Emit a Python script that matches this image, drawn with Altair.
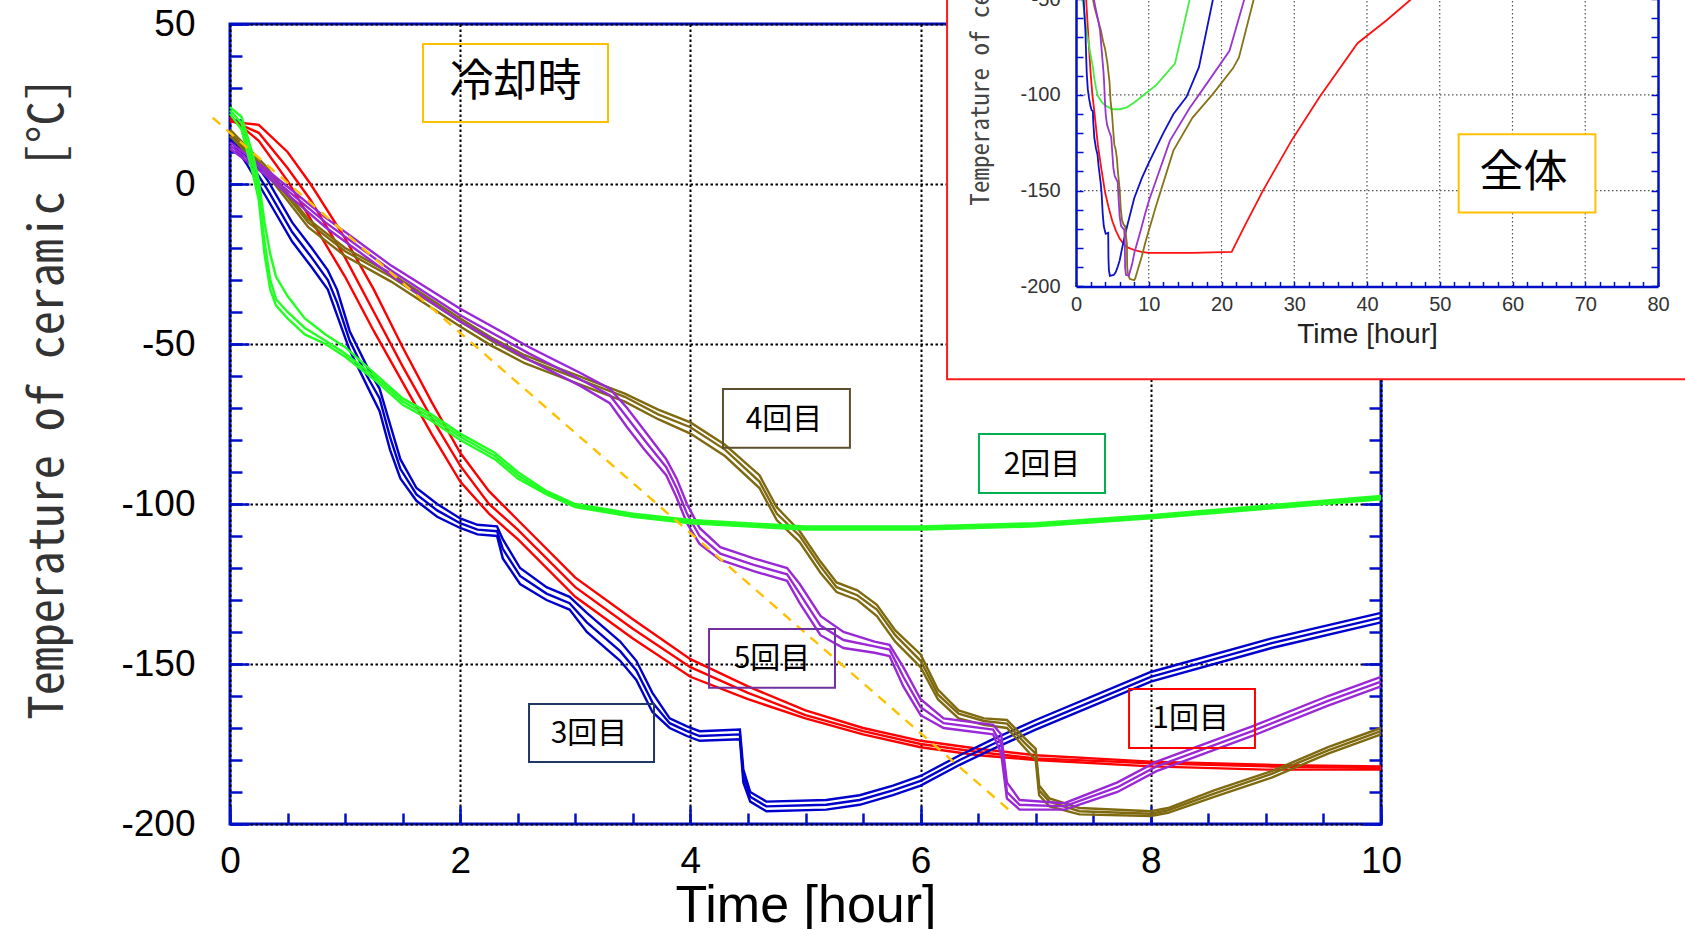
import altair as alt
import pandas as pd

AXIS_BLUE = "#0010C8"
MONO = "Noto Sans Mono CJK JP, DejaVu Sans Mono"
SANS = "Liberation Sans"
CJK = "Noto Sans CJK JP"

# ---------------- cooling runs, 0-10 h (three thermocouples per run) ----------------
red_t = [0, 0.25, 0.5, 0.7, 1.0, 1.25, 1.5, 1.75, 2.0, 2.25, 2.5, 3.0, 3.5, 4.0, 4.5,
         5.0, 5.5, 6.0, 6.5, 7.0, 8.0, 9.0, 10.0]
red_a = [21, 13.5, 1, -11, -29, -46, -62, -78, -93, -103, -111, -129, -142, -154, -161,
         -167, -172, -176, -178.5, -180, -182, -183, -183]
red_b = [20, 16, 5, -5, -23, -40, -57, -73, -88, -100, -108, -126, -139, -151, -159,
         -166, -171, -175, -177.5, -179.5, -181, -182, -182.5]
red_c = [19.5, 18.5, 10, 0, -17, -33, -51, -68, -84, -96, -105, -123, -136, -148.5, -157,
         -164.5, -170, -174, -176.5, -178.5, -180.5, -181.5, -182]

green_t = [0, 0.1, 0.2, 0.25, 0.3, 0.35, 0.4, 0.5, 0.65, 0.83, 1.0, 1.25, 1.5, 1.75, 2.0,
           2.3, 2.5, 2.75, 3.0, 3.5, 4.0, 5.0, 6.0, 7.0, 8.0, 9.0, 10.0]
green_a = [22, 17, 3, -5, -22, -33, -38, -42, -47, -50, -54, -61, -69, -74, -80,
           -86, -92, -97, -101, -104, -106, -108, -108, -107, -104.5, -101.5, -98.5]
green_b = [23, 19, 6, -2, -18, -30, -36, -40, -45, -49, -53, -60, -68, -73, -79,
           -85, -91, -96.5, -100.5, -103.5, -105.5, -107.5, -107.5, -106.5, -104, -101, -98]
green_c = [24, 21, 9, 1, -12, -22, -29, -35, -42, -47, -51, -59, -67, -72, -78,
           -84, -90, -96, -100, -103, -105, -107, -107, -106, -103.5, -100.5, -97.5]

blue_t = [0, 0.15, 0.33, 0.54, 0.71, 0.85, 0.93, 1.04, 1.19, 1.3, 1.39, 1.48, 1.62, 1.8,
          2.0, 2.15, 2.32, 2.37, 2.52, 2.75, 2.95, 3.1, 3.39, 3.53, 3.67, 3.82, 3.97, 4.08,
          4.43, 4.46, 4.52, 4.66, 5.18, 5.47, 5.76, 6.0, 6.34, 6.63, 7.0, 8.0, 9.05, 10.0]
blue_a = [14, 6, -5, -18, -26, -33, -41, -52, -63, -71, -83, -92, -99, -104,
          -107.5, -109.5, -110, -117, -125, -130, -133, -140, -149, -155, -165, -170, -172.5, -174,
          -173.5, -187, -193, -196, -195.5, -194, -191, -188, -181.5, -176.5, -170.5, -155.5, -145, -137]
blue_b = [15, 8, -2, -15, -23, -30, -37, -49, -60, -67, -79, -89, -97, -102,
          -106, -108, -108.5, -114, -122.5, -128, -131, -137, -146, -152, -162, -168.5, -171, -172.5,
          -172, -185, -191.5, -194.5, -194, -192.5, -189.5, -186.5, -180, -175, -169, -154, -143.5, -135.5]
blue_c = [16, 10, 1, -12, -20, -27, -33, -46, -57, -64, -75, -86, -95, -100,
          -104.5, -106.5, -107, -111, -120, -126, -129, -134, -143, -149, -159, -167, -169.5, -171,
          -170.5, -183, -190, -193, -192.5, -191, -188, -185, -178.5, -173.5, -167.5, -152.5, -142, -134]

olive_t = [0, 0.3, 0.68, 1.0, 1.4, 1.7, 2.0, 2.27, 2.56, 2.85, 3.14, 3.43, 3.72, 4.0, 4.3,
           4.6, 4.75, 4.95, 5.13, 5.27, 5.45, 5.62, 5.78, 6.0, 6.15, 6.33, 6.55, 6.75, 6.9,
           7.0, 7.03, 7.12, 7.38, 8.0, 8.15, 8.55, 9.05, 9.54, 10.0]
olive_a = [15, 4, -13.5, -22.5, -30.5, -37.5, -44.5, -50.5, -56, -60, -64, -68, -73.5, -78, -85,
           -95, -105, -112, -121.5, -127.5, -130, -135, -143, -151, -161, -167, -169, -170, -176,
           -180, -191, -194.5, -197, -197.5, -196.5, -191.5, -185.5, -178, -172]
olive_b = [16, 5, -12, -21, -29, -36, -43, -49, -54.5, -58.5, -62.5, -66.5, -72, -76, -83,
           -93, -103, -110, -119.5, -126, -128.5, -133, -141, -149, -159.5, -165.5, -167.8, -168.6, -174.5,
           -178, -189.5, -193, -196, -196.8, -195.7, -190.5, -184.3, -177, -171]
olive_c = [17, 6, -11, -20, -28, -35, -42, -48, -53.5, -57.5, -61.5, -65.5, -70.5, -74.5, -81.5,
           -91, -101, -108.5, -118, -124.5, -127, -131.5, -139.5, -147, -158, -164.5, -167, -167.5, -173,
           -176.5, -188, -192, -195, -196, -195, -189.5, -183.5, -176, -170]

purple_t = [0, 0.3, 0.83, 1.4, 2.0, 2.6, 3.04, 3.3, 3.45, 3.6, 3.79, 3.88, 3.97, 4.08, 4.26,
            4.55, 4.84, 4.95, 5.13, 5.33, 5.6, 5.73, 5.85, 6.0, 6.2, 6.63, 6.7, 6.75, 6.86,
            7.25, 7.71, 8.05, 8.88, 9.54, 10.0]
purple_a = [11, 3, -13.5, -28.5, -43, -55, -63, -68.5, -76, -83, -91, -98, -106, -112.5, -117.5,
            -121, -124, -131, -141, -145, -146.5, -147.5, -157, -166, -170, -172, -178, -192, -195.5,
            -195.5, -190, -183.5, -172.5, -163, -157]
purple_b = [12, 4, -12, -27, -41, -53, -61, -66, -73, -80, -88.5, -95, -103, -110, -115.5,
            -119, -122, -128, -138, -142.5, -144.5, -145.5, -154, -163.5, -168.5, -170.5, -175, -190, -194,
            -194.5, -188.5, -182, -171, -161.5, -155.5]
purple_c = [13, 5, -10.5, -25.5, -39, -51, -59, -64, -70, -77, -86, -92, -100, -107.5, -113.5,
            -117, -120, -125, -135, -140, -143, -144, -151, -161, -167, -169, -172, -187, -192.5,
            -193.5, -187, -180.5, -169.5, -160, -154]

# reference cooling rate (dashed)
guide_t = [-0.15, 6.78]
guide_T = [20.7, -196]

# ---------------- whole run (inset), continuation after 10 h ----------------
red_ext_t = [12, 16, 21.4, 23.1, 25.7, 29.6, 33.5, 38.7, 42.7, 45.9, 48]
red_ext_T = [-182.5, -182.5, -182, -169, -150, -124, -101, -73, -61, -50.6, -44]
green_ext_t = [11, 13.6, 15.6, 16.5]
green_ext_T = [-95, -83.7, -50.6, -40]
blue_ext_t = [12, 13.4, 15.2, 16.9, 18.8, 19.5]
blue_ext_T = [-120, -110, -101, -85.5, -50.6, -42]
olive_ext_t = [11, 13.4, 16, 18.8, 21.6, 22.4, 24.4, 25]
olive_ext_T = [-158, -129, -112, -99.6, -86, -80.5, -50.6, -43]
purple_ext_t = [12.9, 15.6, 18, 21.1, 23.1, 24]
purple_ext_T = [-124, -107, -94, -77, -50.6, -42]

# run labels
run_names = ["1回目", "2回目", "3回目", "4回目", "5回目"]
run_colors = ["#FF0000", "#22FF22", "#0000CC", "#7F6A10", "#9A28D6"]
inset_colors = ["#FF1010", "#44EE44", "#1010CC", "#857318", "#9A35D0"]

# annotation boxes: text, centre, box extent (hours, °C), edge colour, font size
note_text = ["冷却時", "4回目", "2回目", "5回目", "3回目", "1回目"]
note_cx = [2.48, 4.813, 7.055, 4.709, 3.119, 8.346]
note_cy = [31.6, -73.75, -87.8, -148.4, -171.9, -167.2]
note_x0 = [1.677, 4.283, 6.507, 4.162, 2.598, 7.811]
note_x1 = [3.284, 5.386, 7.602, 5.256, 3.684, 8.905]
note_y0 = [43.75, -64.1, -78.1, -139.1, -162.5, -157.8]
note_y1 = [19.4, -82.4, -96.6, -157.4, -180.6, -176.25]
note_edge = ["#FFC000", "#5B4F2E", "#00B050", "#7030A0", "#1F3864", "#FF0000"]
note_size = [44, 30, 30, 30, 30, 30]

# ---------------- geometry ----------------
W, H = 1151, 800
XS = alt.Scale(domain=[0, 10], nice=False, zero=False)
YS = alt.Scale(domain=[-200, 50], nice=False, zero=False)
# inset scales placed inside the same plotting area
IXS = alt.Scale(domain=[0, 80], range=[846, 1428], nice=False, zero=False)
IYS = alt.Scale(domain=[-200, 50], range=[262.4, -216.4], nice=False, zero=False)

major_x = [0, 2, 4, 6, 8, 10]
minor_x = [i / 2 for i in range(21)]
major_y = [50, 0, -50, -100, -150, -200]
minor_y = list(range(-200, 51, 10))

# plain hyphen-minus for negative tick labels
PLAIN = "toString(datum.value)"


def tick_axis(orient, offset, values, size, width=2.5, z=0, domain=False):
    kw = dict(orient=orient, offset=offset, values=values, tickSize=size, tickWidth=width,
              tickColor=AXIS_BLUE, labels=False, domain=domain, grid=False, title=None, zindex=z)
    if domain:
        kw.update(domainColor=AXIS_BLUE, domainWidth=2.5)
    return alt.Axis(**kw)


def long_frame(times, series):
    rows = []
    for name, vals in series.items():
        for t, v in zip(times, vals):
            rows.append({"t": t, "T": v, "sensor": name})
    return pd.DataFrame(rows)


def run_layer(df, color, xaxis, yaxis):
    return alt.Chart(df).mark_line(color=color, strokeWidth=2.4, clip=False).encode(
        x=alt.X("t:Q", scale=XS, axis=xaxis),
        y=alt.Y("T:Q", scale=YS, axis=yaxis),
        detail="sensor:N",
    )


x_main_axis = alt.Axis(
    orient="bottom", values=major_x, labelExpr=PLAIN, labelFont=SANS, labelFontSize=37,
    labelColor="black", labelPadding=19, labelFlush=False, labelOverlap=False,
    ticks=False, domain=False, grid=True, gridColor="black", gridDash=[2.5, 2.5], gridWidth=2,
    title="Time [hour]", titleFont=SANS, titleFontSize=52, titleFontWeight="normal",
    titleColor="black", titleY=97, titleBaseline="alphabetic",
)
y_main_axis = alt.Axis(
    orient="left", values=major_y, labelExpr=PLAIN, labelFont=SANS, labelFontSize=37,
    labelColor="black", labelPadding=35, labelOverlap=False,
    ticks=False, domain=False, grid=True, gridColor="black", gridDash=[2.5, 2.5], gridWidth=2,
    title="Temperature of ceramic [°C]", titleFont=MONO, titleFontSize=48,
    titleFontWeight="normal", titleColor="#333333", titleX=-168, titleY=374,
    titleBaseline="alphabetic",
)

red = run_layer(long_frame(red_t, {"a": red_a, "b": red_b, "c": red_c}), run_colors[0],
                x_main_axis, y_main_axis)
blue = run_layer(long_frame(blue_t, {"a": blue_a, "b": blue_b, "c": blue_c}), run_colors[2],
                 tick_axis("top", -H, major_x, 18), tick_axis("right", -W, major_y, 19))
olive = run_layer(long_frame(olive_t, {"a": olive_a, "b": olive_b, "c": olive_c}), run_colors[3],
                  tick_axis("top", -H, minor_x, 11), tick_axis("right", -W, minor_y, 12))
purple = run_layer(long_frame(purple_t, {"a": purple_a, "b": purple_b, "c": purple_c}), run_colors[4],
                   None, tick_axis("left", -W, minor_y, 12))
green = run_layer(long_frame(green_t, {"a": green_a, "b": green_b, "c": green_c}), run_colors[1],
                  None, tick_axis("left", -W, major_y, 19))

guide = alt.Chart(pd.DataFrame({"t": guide_t, "T": guide_T})).mark_line(
    color="#FFC000", strokeWidth=2.4, strokeDash=[10, 8], clip=False
).encode(x=alt.X("t:Q", scale=XS, axis=None), y=alt.Y("T:Q", scale=YS, axis=None))

notes = pd.DataFrame({"text": note_text, "cx": note_cx, "cy": note_cy, "x0": note_x0,
                      "x1": note_x1, "y0": note_y0, "y1": note_y1, "edge": note_edge,
                      "fs": note_size})
note_boxes = alt.Chart(notes).mark_rect(fill="white", fillOpacity=0, strokeWidth=2).encode(
    x=alt.X("x0:Q", scale=XS, axis=None), x2="x1:Q",
    y=alt.Y("y0:Q", scale=YS, axis=None), y2="y1:Q",
    stroke=alt.Stroke("edge:N", scale=None),
)
note_text_layer = alt.Chart(notes).mark_text(font=CJK, color="black").encode(
    x=alt.X("cx:Q", scale=XS, axis=None), y=alt.Y("cy:Q", scale=YS, axis=None),
    text="text:N", size=alt.Size("fs:Q", scale=None),
)

# white panel with red frame holding the whole-run plot
panel = alt.Chart(pd.DataFrame({"x0": [6.23], "x1": [14.0], "y0": [-61.0], "y1": [65.0]})).mark_rect(
    fill="white", stroke="#FF1A1A", strokeWidth=2, clip=False
).encode(x=alt.X("x0:Q", scale=XS, axis=None), x2="x1:Q",
         y=alt.Y("y0:Q", scale=YS, axis=None), y2="y1:Q")

# ---------------- inset ----------------
inset_grid_t = [10, 20, 30, 40, 50, 60, 70]
inset_grid_T = [-150, -100, -50, 0]
inset_minor_x = list(range(0, 81, 2))

vgrid = alt.Chart(pd.DataFrame({"g": inset_grid_t, "lo": [-200] * 7, "hi": [50] * 7})).mark_rule(
    color="#555555", strokeWidth=1.2, strokeDash=[1.5, 2.5]
).encode(
    x=alt.X("g:Q", scale=IXS, axis=tick_axis("top", -262.4, inset_minor_x, 5, width=1.5, z=1)),
    y=alt.Y("lo:Q", scale=IYS, axis=tick_axis("right", -(W - 846), minor_y, 7, width=1.5, z=1)),
    y2="hi:Q",
)
hgrid = alt.Chart(pd.DataFrame({"g": inset_grid_T, "lo": [0] * 4, "hi": [80] * 4})).mark_rule(
    color="#555555", strokeWidth=1.2, strokeDash=[1.5, 2.5]
).encode(
    x=alt.X("lo:Q", scale=IXS, axis=None), x2="hi:Q",
    y=alt.Y("g:Q", scale=IYS,
            axis=tick_axis("left", -1428, minor_y, 7, width=1.5, z=1, domain=True)),
)

inset_rows = []
for name, (t0, v0, te, ve) in zip(run_names, [
    (red_t, red_b, red_ext_t, red_ext_T),
    (green_t, green_b, green_ext_t, green_ext_T),
    (blue_t, blue_b, blue_ext_t, blue_ext_T),
    (olive_t, olive_b, olive_ext_t, olive_ext_T),
    (purple_t, purple_b, purple_ext_t, purple_ext_T),
]):
    for t, v in zip(list(t0) + te, list(v0) + ve):
        inset_rows.append({"run": name, "t": t, "T": v})
inset_df = pd.DataFrame(inset_rows)

inset_x_axis = alt.Axis(
    orient="bottom", offset=262.4 - H, values=list(range(0, 81, 10)), labelExpr=PLAIN,
    labelFont=SANS, labelFontSize=20, labelColor="#333333", labelPadding=8, labelFlush=False,
    labelOverlap=False, ticks=False, domain=True, domainColor=AXIS_BLUE, domainWidth=2.5,
    grid=False, title="Time [hour]", titleFont=SANS, titleFontSize=28, titleFontWeight="normal",
    titleColor="#222222", titleY=56, titleBaseline="alphabetic", zindex=1,
)
inset_y_axis = alt.Axis(
    orient="left", offset=-846, values=[-200, -150, -100, -50, 0, 50], labelExpr=PLAIN,
    labelFont=SANS, labelFontSize=20, labelColor="#333333", labelPadding=16, labelOverlap=False,
    ticks=False, domain=True, domainColor=AXIS_BLUE, domainWidth=2.5, grid=False,
    title="Temperature of ceramic [°C]", titleFont=MONO, titleFontSize=25,
    titleFontWeight="normal", titleColor="#444444", titleX=-88, titleY=14,
    titleBaseline="alphabetic", zindex=1,
)
inset_lines = alt.Chart(inset_df).mark_line(strokeWidth=1.8, clip=False).encode(
    x=alt.X("t:Q", scale=IXS, axis=inset_x_axis),
    y=alt.Y("T:Q", scale=IYS, axis=inset_y_axis),
    color=alt.Color("run:N", scale=alt.Scale(domain=run_names, range=inset_colors), legend=None),
    detail="run:N",
)

whole = pd.DataFrame({"text": ["全体"], "cx": [61.5], "cy": [-141.3], "x0": [52.6],
                      "x1": [71.4], "y0": [-120.6], "y1": [-161.4]})
whole_box = alt.Chart(whole).mark_rect(fill="white", stroke="#FFC000", strokeWidth=2).encode(
    x=alt.X("x0:Q", scale=IXS, axis=None), x2="x1:Q",
    y=alt.Y("y0:Q", scale=IYS, axis=None), y2="y1:Q",
)
whole_text = alt.Chart(whole).mark_text(font=CJK, fontSize=44, color="black").encode(
    x=alt.X("cx:Q", scale=IXS, axis=None), y=alt.Y("cy:Q", scale=IYS, axis=None), text="text:N",
)

chart = alt.layer(
    red, blue, olive, purple, green, guide, note_boxes, note_text_layer,
    panel, vgrid, hgrid, inset_lines, whole_box, whole_text,
).resolve_scale(
    x="independent", y="independent"
).properties(
    width=W, height=H,
    autosize=alt.AutoSizeParams(type="none"),
    padding={"left": 230, "top": 24, "right": 304, "bottom": 105},
    background="white",
).configure_view(
    stroke=AXIS_BLUE, strokeWidth=3
)

chart.save("out.html", embed_options={"renderer": "svg", "actions": False})
